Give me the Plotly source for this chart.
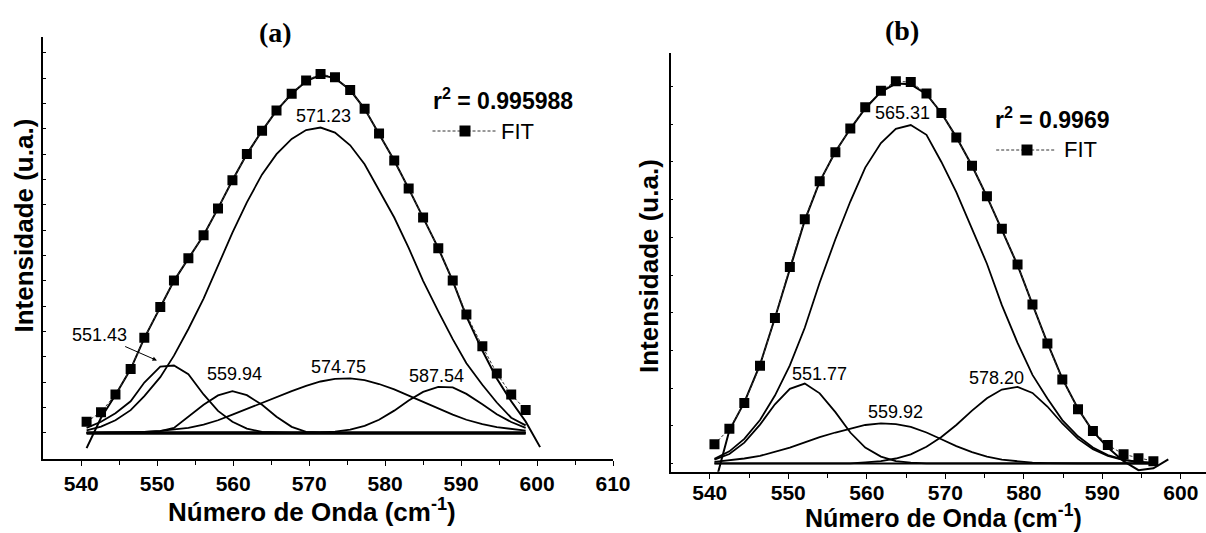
import plotly.graph_objects as go

W, H = 1206, 533

# ---------------- Panel (a) data ----------------
xa_pts = [540.7, 542.6, 544.5, 546.5, 548.3, 550.4, 552.2, 554.1, 556.1, 558.0, 559.9, 561.8, 563.8,
          565.7, 567.7, 569.6, 571.5, 573.4, 575.4, 577.3, 579.2, 581.2, 583.1, 585.0, 587.0, 588.9,
          590.7, 592.8, 594.7, 596.6, 598.5]
ya_pts = [0.44, 0.82, 1.52, 2.52, 3.76, 4.97, 6.01, 6.89, 7.80, 8.86, 9.97, 11.01, 11.92, 12.72, 13.38,
          13.91, 14.16, 14.03, 13.53, 12.79, 11.81, 10.75, 9.64, 8.50, 7.29, 6.01, 4.67, 3.42, 2.35,
          1.52, 0.91]
xa_fit = [540.7, 542.6, 544.5, 546.5, 548.3, 550.4, 552.2, 554.1, 556.1, 558.0, 559.9, 561.8, 563.8,
          565.7, 567.7, 569.6, 571.5, 573.4, 575.4, 577.3, 579.2, 581.2, 583.1, 585.0, 587.0, 588.9,
          590.7, 592.8, 594.7, 596.6, 598.5, 600.4]
ya_fit = [-0.6, 0.6, 1.5, 2.52, 3.74, 4.95, 6.0, 6.88, 7.8, 8.86, 9.97, 11.0, 11.92, 12.72, 13.38, 13.88,
          14.12, 14.0, 13.53, 12.79, 11.81, 10.75, 9.64, 8.5, 7.29, 6.0, 4.6, 3.25, 2.15, 1.25, 0.45, -0.56]
a_571 = [0.1, 0.25, 0.5, 0.9, 1.45, 2.2, 3.05, 4.1, 5.3, 6.6, 7.9, 9.1, 10.2, 11.0, 11.6, 11.95, 12.05,
         11.85, 11.35, 10.6, 9.6, 8.5, 7.3, 6.0, 4.8, 3.7, 2.75, 1.9, 1.2, 0.6, 0.3]
a_551 = [0.2, 0.44, 0.78, 1.25, 1.99, 2.62, 2.66, 2.32, 1.52, 0.87, 0.44, 0.17, 0.04, 0.01, 0, 0, 0, 0,
         0, 0, 0, 0, 0, 0, 0, 0, 0, 0, 0, 0, 0]
a_559 = [0, 0, 0.01, 0.02, 0.04, 0.07, 0.2, 0.64, 1.11, 1.48, 1.65, 1.49, 1.11, 0.64, 0.24, 0.04, 0.01,
         0, 0, 0, 0, 0, 0, 0, 0, 0, 0, 0, 0, 0, 0]
a_574 = [0.0, 0.01, 0.01, 0.02, 0.04, 0.08, 0.13, 0.2, 0.33, 0.5, 0.72, 0.95, 1.18, 1.4, 1.65, 1.86,
         2.03, 2.13, 2.15, 2.08, 1.93, 1.72, 1.47, 1.21, 0.95, 0.72, 0.52, 0.35, 0.23, 0.15, 0.09]
a_587 = [0, 0, 0, 0, 0, 0, 0, 0, 0, 0, 0, 0, 0, 0, 0, 0, 0.02, 0.05, 0.13, 0.28, 0.52, 0.88, 1.28, 1.62,
         1.82, 1.8, 1.54, 1.13, 0.74, 0.43, 0.2]
a_base_x = [540.7, 598.5]
a_base_y = [0, 0]

# ---------------- Panel (b) data ----------------
xb_pts = [540.6, 542.5, 544.4, 546.4, 548.3, 550.2, 552.1, 554.0, 556.0, 557.9, 559.8, 561.8, 563.7,
          565.6, 567.6, 569.5, 571.4, 573.4, 575.3, 577.2, 579.2, 581.1, 583.0, 584.9, 586.9, 588.8,
          590.7, 592.7, 594.6, 596.5]
yb_pts = [0.51, 0.92, 1.60, 2.59, 3.86, 5.21, 6.48, 7.49, 8.26, 8.89, 9.45, 9.89, 10.14, 10.12, 9.82,
          9.30, 8.65, 7.90, 7.09, 6.23, 5.28, 4.22, 3.18, 2.23, 1.44, 0.86, 0.49, 0.24, 0.14, 0.06]
xb_fit = [540.6, 542.5, 544.4, 546.4, 548.3, 550.2, 552.1, 554.0, 556.0, 557.9, 559.8, 561.8, 563.7,
          565.6, 567.6, 569.5, 571.4, 573.4, 575.3, 577.2, 579.2, 581.1, 583.0, 584.9, 586.9, 588.8,
          590.7, 592.7, 594.6, 596.5, 598.4]
yb_fit = [-0.6, 0.88, 1.62, 2.62, 3.86, 5.18, 6.45, 7.48, 8.27, 8.88, 9.42, 9.86, 10.08, 10.06, 9.8, 9.3,
          8.66, 7.9, 7.08, 6.2, 5.26, 4.22, 3.2, 2.25, 1.45, 0.85, 0.42, 0.06, -0.18, -0.13, 0.11]
b_565 = [0.12, 0.32, 0.65, 1.15, 1.8, 2.6, 3.6, 4.8, 5.95, 6.95, 7.85, 8.5, 8.88, 8.98, 8.72, 8.0, 7.2,
         6.25, 5.3, 4.2, 3.2, 2.35, 1.72, 1.15, 0.72, 0.42, 0.22, 0.1, 0.04, 0.02]
b_551 = [0.1, 0.25, 0.55, 1.03, 1.57, 1.98, 2.12, 1.86, 1.36, 0.82, 0.42, 0.18, 0.06, 0.02, 0, 0, 0, 0,
         0, 0, 0, 0, 0, 0, 0, 0, 0, 0, 0, 0]
b_559 = [0.04, 0.08, 0.13, 0.2, 0.3, 0.42, 0.56, 0.7, 0.82, 0.93, 1.02, 1.06, 1.04, 0.97, 0.82, 0.64,
         0.46, 0.3, 0.18, 0.1, 0.05, 0.02, 0.01, 0, 0, 0, 0, 0, 0, 0]
b_578 = [0, 0, 0, 0, 0, 0, 0, 0, 0, 0, 0.03, 0.06, 0.13, 0.24, 0.44, 0.7, 1.02, 1.4, 1.73, 1.96, 2.03,
         1.87, 1.51, 1.06, 0.65, 0.38, 0.2, 0.09, 0.04, 0.01]
b_base_x = [540.6, 596.5]
b_base_y = [0, 0]

# ---------------- axis ticks / labels ----------------
xa_tickvals = [540, 550, 560, 570, 580, 590, 600, 610]
xa_ticktext = ["540", "550", "560", "570", "580", "590", "600", "610"]
xa_minor = [545, 555, 565, 575, 585, 595, 605]
xb_tickvals = [540, 550, 560, 570, 580, 590, 600]
xb_ticktext = ["540", "550", "560", "570", "580", "590", "600"]
xb_minor = [545, 555, 565, 575, 585, 595]
ya_ticks = list(range(0, 16))
yb_ticks = list(range(0, 11))

xtitle = "Número de Onda (cm<sup>-1</sup>)"
ytitle = "Intensidade (u.a.)"

SANS = "Liberation Sans, Arial, sans-serif"
SERIF = "Liberation Serif, Times New Roman, serif"


def px(x):
    return x / W


def py(y):
    return 1 - y / H


fig = go.Figure()

comp_line = dict(color="black", width=1.8)


def add_panel(xs, comps, bx, by, bw, xf, yf, xp, yp, xref, yref):
    for c in comps:
        fig.add_trace(go.Scatter(x=xs, y=c, mode="lines", line=comp_line, showlegend=False,
                                 xaxis=xref, yaxis=yref, hoverinfo="skip"))
    fig.add_trace(go.Scatter(x=bx, y=by, mode="lines", line=dict(color="black", width=bw),
                             showlegend=False, xaxis=xref, yaxis=yref, hoverinfo="skip"))
    fig.add_trace(go.Scatter(x=xf, y=yf, mode="lines", line=dict(color="black", width=2),
                             showlegend=False, xaxis=xref, yaxis=yref, hoverinfo="skip"))
    fig.add_trace(go.Scatter(x=xp, y=yp, mode="lines+markers",
                             line=dict(color="#333", width=1, dash="3px,2px"),
                             marker=dict(symbol="square", size=10, color="black"),
                             showlegend=False, xaxis=xref, yaxis=yref, name="FIT"))


add_panel(xa_pts, [a_571, a_551, a_559, a_574, a_587], a_base_x, a_base_y, 3.5,
          xa_fit, ya_fit, xa_pts, ya_pts, "x", "y")
add_panel(xb_pts, [b_565, b_551, b_559, b_578], b_base_x, b_base_y, 2,
          xb_fit, yb_fit, xb_pts, yb_pts, "x2", "y2")


def bold(lst):
    return ["<b>%s</b>" % t for t in lst]


tickfont = dict(family=SANS, size=21, color="black")
common_x = dict(showline=True, linecolor="black", linewidth=1.6, mirror=False, showgrid=False,
                zeroline=False, ticks="outside", ticklen=5, tickwidth=1.3, tickcolor="black",
                tickfont=tickfont, tickmode="array", automargin=False)
common_y = dict(showline=True, linecolor="black", linewidth=1.6, mirror=False, showgrid=False,
                zeroline=False, ticks="inside", ticklen=3, tickwidth=1, tickcolor="black",
                showticklabels=False, tickmode="array", automargin=False)

fig.update_layout(
    width=W, height=H, margin=dict(l=0, r=0, t=0, b=0, pad=0), autosize=False,
    paper_bgcolor="white", plot_bgcolor="white", showlegend=False,
    xaxis=dict(common_x, domain=[px(43.3), px(613)], range=[535, 610], anchor="y",
               tickvals=xa_tickvals, ticktext=bold(xa_ticktext), ticklabelstandoff=0,
               minor=dict(tickvals=xa_minor, ticks="outside", ticklen=4, tickwidth=1.2,
                          tickcolor="black", showgrid=False)),
    yaxis=dict(common_y, domain=[py(459.3), py(37.3)], range=[-1.04, 15.61], anchor="x",
               tickvals=ya_ticks),
    xaxis2=dict(common_x, domain=[px(670.5), 1.0], range=[535, 603.2], anchor="y2",
                tickvals=xb_tickvals, ticktext=bold(xb_ticktext), ticklabelstandoff=-4,
                minor=dict(tickvals=xb_minor, ticks="outside", ticklen=4, tickwidth=1.2,
                           tickcolor="black", showgrid=False)),
    yaxis2=dict(common_y, domain=[py(471.7), py(52.7)], range=[-0.22, 10.9], anchor="x2",
                tickvals=yb_ticks),
)

ann = []
lab_font = dict(family=SANS, size=18, color="black")


def label(text, x, y, font=lab_font, xanchor="center", **kw):
    ann.append(dict(text=text, x=px(x), y=py(y), xref="paper", yref="paper", showarrow=False,
                    xanchor=xanchor, yanchor="middle", font=font, **kw))


# panel titles
ttl_font = dict(family=SERIF, size=28, color="black")
label("<b>(a)</b>", 275, 32, ttl_font)
label("<b>(b)</b>", 902, 31, ttl_font)

# axis titles
axt_font = dict(family=SANS, size=26, color="black")
axt_font_b = dict(family=SANS, size=25, color="black")
label("<b>" + xtitle + "</b>", 312, 511, axt_font)
label("<b>" + xtitle + "</b>", 943, 516, axt_font_b)
label("<b>" + ytitle + "</b>", 23.5, 226, axt_font, textangle=-90)
label("<b>" + ytitle + "</b>", 649, 266, axt_font, textangle=-90)

# peak labels (a)
label("571.23", 323.4, 115.6)
label("559.94", 234.2, 374)
label("574.75", 338, 367.3)
label("587.54", 436.3, 375.9)
ann.append(dict(text="551.43", x=px(157), y=py(360.5), xref="paper", yref="paper", showarrow=True,
                ax=-58, ay=-25.5, arrowhead=2, arrowsize=0.9, arrowwidth=1, arrowcolor="black",
                font=lab_font, standoff=0))
# peak labels (b)
label("565.31", 902.5, 113)
label("551.77", 819.6, 374.1)
label("559.92", 895, 411.6)
label("578.20", 996.2, 377.6)

# r^2 and FIT legends
r_font = dict(family=SANS, size=23, color="black")
fit_font = dict(family=SANS, size=22, color="black")
label("<b>r<sup>2</sup> = 0.995988</b>", 431, 99, r_font, xanchor="left")
label("<b>r<sup>2</sup> = 0.9969</b>", 993, 118, r_font, xanchor="left")
label("FIT", 499, 131, fit_font, xanchor="left")
label("FIT", 1062, 150, fit_font, xanchor="left")

shapes = []
for (x0, x1, xm, yy) in [(432.5, 497.5, 465, 131), (996.2, 1054.2, 1027, 150)]:
    shapes.append(dict(type="line", xref="paper", yref="paper", x0=px(x0), x1=px(x1), y0=py(yy),
                       y1=py(yy), line=dict(color="#333", width=1, dash="3px,2px")))
    shapes.append(dict(type="rect", xref="paper", yref="paper", x0=px(xm - 5.5), x1=px(xm + 5.5),
                       y0=py(yy + 5.5), y1=py(yy - 5.5), fillcolor="black", line=dict(width=0)))

fig.update_layout(annotations=ann, shapes=shapes)

fig.write_html(
    "out.html",
    config={"displayModeBar": False, "responsive": False},
    post_script=("document.documentElement.style.overflow='hidden';"
                 "document.body.style.margin='0';document.body.style.overflow='hidden';"),
)
